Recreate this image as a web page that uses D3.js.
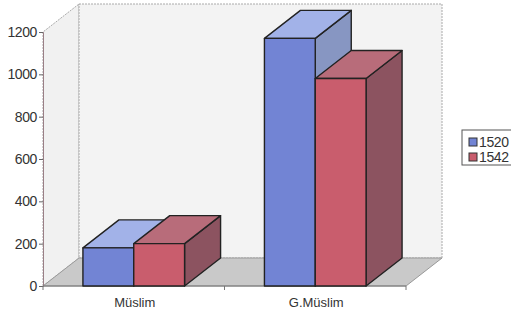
<!DOCTYPE html>
<html>
<head>
<meta charset="utf-8">
<script src="https://cdn.jsdelivr.net/npm/d3@7"></script>
<style>
  body { margin: 0; background: #fff; }
  text { font-family: "Liberation Sans", Arial, sans-serif; }
</style>
</head>
<body>
<script>
// Data
const categories = ["Müslim", "G.Müslim"];
const years = ["1520", "1542"];
const values1520 = [180, 1170];
const values1542 = [200, 980];
const yTicks = [0, 200, 400, 600, 800, 1000, 1200];

const canvWidth = 511, canvHeight = 312;
const svg = d3.select("body").append("svg")
    .attr("width", canvWidth)
    .attr("height", canvHeight);

// Plot frame (front plane) and depth offset
const plotLeft = 43, plotRight = 406, plotBottom = 286, plotTop = 32;
const depthX = 36, depthY = 28;

const xScale = d3.scaleBand()
    .domain(categories)
    .range([plotLeft, plotRight])
    .paddingInner(0.44)
    .paddingOuter(0.22);
const seriesScale = d3.scaleBand()
    .domain(years)
    .range([0, xScale.bandwidth()]);
const yScale = d3.scaleLinear()
    .domain([0, 1200])
    .range([plotBottom, plotTop]);

const colors = {
    "1520": {front: "#7284d4", top: "#a2b2e8", side: "#8796c2"},
    "1542": {front: "#c95d6d", top: "#b86c7a", side: "#8c5360"}
};

const poly = pts => pts.map(p => p.join(",")).join(" ");

// Walls and floor
svg.append("polygon")
    .attr("points", poly([[plotLeft, plotBottom], [plotLeft, plotTop], [plotLeft + depthX, plotTop - depthY], [plotLeft + depthX, plotBottom - depthY]]))
    .attr("fill", "#f1f1f1")
    .attr("stroke", "#aaa")
    .attr("stroke-dasharray", "2,1");
svg.append("polygon")
    .attr("points", poly([[plotLeft + depthX, plotTop - depthY], [plotRight + depthX, plotTop - depthY], [plotRight + depthX, plotBottom - depthY], [plotLeft + depthX, plotBottom - depthY]]))
    .attr("fill", "#f3f3f3")
    .attr("stroke", "#aaa")
    .attr("stroke-dasharray", "2,1");
svg.append("polygon")
    .attr("points", poly([[plotLeft, plotBottom], [plotLeft + depthX, plotBottom - depthY], [plotRight + depthX, plotBottom - depthY], [plotRight, plotBottom]]))
    .attr("fill", "#c9c9c9")
    .attr("stroke", "#999");

// Y axis
const yAxis = d3.axisLeft(yScale)
    .tickValues(yTicks)
    .tickFormat(d3.format("d"))
    .tickSize(4)
    .tickPadding(2);
const yG = svg.append("g")
    .attr("transform", "translate(" + plotLeft + ",0)")
    .call(yAxis);
yG.select(".domain").attr("stroke", "#9a7f86");
yG.selectAll(".tick line").attr("stroke", "#666");
yG.selectAll("text")
    .attr("font-size", "14px")
    .attr("fill", "#333")
    .attr("font-family", "Liberation Sans, Arial, sans-serif")
    .attr("letter-spacing", "-0.4px");

// X axis
const xG = svg.append("g")
    .attr("transform", "translate(0," + plotBottom + ")");
xG.append("line")
    .attr("x1", plotLeft).attr("x2", plotRight)
    .attr("stroke", "#777");
xG.selectAll(".sep")
    .data([plotLeft, (xScale(categories[0]) + xScale.bandwidth() + xScale(categories[1])) / 2, plotRight])
    .enter().append("line")
    .attr("x1", d => d).attr("x2", d => d)
    .attr("y1", 0).attr("y2", 4)
    .attr("stroke", "#777");
xG.selectAll(".label")
    .data(categories)
    .enter().append("text")
    .attr("x", d => xScale(d) + xScale.bandwidth() / 2 + 1)
    .attr("y", 21)
    .attr("text-anchor", "middle")
    .attr("font-size", "13px")
    .attr("fill", "#333")
    .text(d => d);

// Bars
const bars = [];
categories.forEach((c, i) => {
    bars.push({cat: c, year: "1520", value: values1520[i]});
    bars.push({cat: c, year: "1542", value: values1542[i]});
});

const barG = svg.append("g");
bars.forEach(d => {
    const x0 = xScale(d.cat) + seriesScale(d.year);
    const x1 = x0 + seriesScale.bandwidth();
    const y = yScale(d.value);
    const c = colors[d.year];
    const g = barG.append("g")
        .attr("stroke", "#222")
        .attr("stroke-width", 1.4)
        .attr("stroke-linejoin", "round");
    g.append("polygon")
        .attr("points", poly([[x1, plotBottom], [x1, y], [x1 + depthX, y - depthY], [x1 + depthX, plotBottom - depthY]]))
        .attr("fill", c.side);
    g.append("polygon")
        .attr("points", poly([[x0, y], [x0 + depthX, y - depthY], [x1 + depthX, y - depthY], [x1, y]]))
        .attr("fill", c.top);
    g.append("rect")
        .attr("x", x0).attr("y", y)
        .attr("width", x1 - x0).attr("height", plotBottom - y)
        .attr("fill", c.front);
});

// Legend
const legend = svg.append("g");
legend.append("rect")
    .attr("x", 462).attr("y", 130)
    .attr("width", 60).attr("height", 35)
    .attr("fill", "#fff")
    .attr("stroke", "#555");
const items = legend.selectAll(".item")
    .data(years)
    .enter().append("g")
    .attr("transform", (d, i) => "translate(469," + (138 + i * 15) + ")");
items.append("rect")
    .attr("width", 8).attr("height", 8)
    .attr("fill", d => colors[d].front)
    .attr("stroke", "#333");
items.append("text")
    .attr("x", 10).attr("y", 9)
    .attr("font-size", "14px")
    .attr("fill", "#333")
    .attr("letter-spacing", "-0.4px")
    .text(d => d);
</script>
</body>
</html>
